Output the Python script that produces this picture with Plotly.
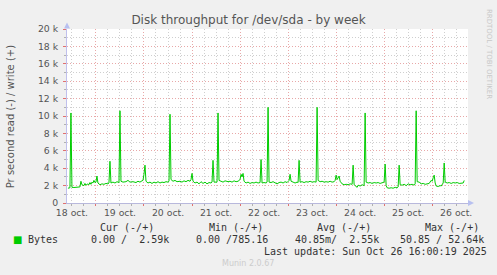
import plotly.graph_objects as go

# ---------------- data ----------------
times = [
    "2025-10-18 10:00", "2025-10-18 10:30", "2025-10-18 11:00", "2025-10-18 11:30", "2025-10-18 12:00",
    "2025-10-18 13:00", "2025-10-18 14:00", "2025-10-18 15:00", "2025-10-18 16:00", "2025-10-18 16:30",
    "2025-10-18 17:00", "2025-10-18 18:00", "2025-10-18 18:30", "2025-10-18 19:00", "2025-10-18 20:00",
    "2025-10-18 20:30", "2025-10-18 21:00", "2025-10-18 21:30", "2025-10-18 22:00", "2025-10-18 22:30",
    "2025-10-18 23:00", "2025-10-18 23:30",
    "2025-10-19 00:00", "2025-10-19 00:30", "2025-10-19 01:00", "2025-10-19 02:00", "2025-10-19 03:00",
    "2025-10-19 04:00", "2025-10-19 05:00", "2025-10-19 06:00", "2025-10-19 06:30", "2025-10-19 07:00",
    "2025-10-19 07:30", "2025-10-19 08:30", "2025-10-19 09:30", "2025-10-19 10:30", "2025-10-19 11:30",
    "2025-10-19 12:00", "2025-10-19 12:30", "2025-10-19 13:30", "2025-10-19 15:00", "2025-10-19 16:00",
    "2025-10-19 17:00", "2025-10-19 18:30", "2025-10-19 20:00", "2025-10-19 21:00", "2025-10-19 22:00",
    "2025-10-19 23:00", "2025-10-19 23:30",
    "2025-10-20 00:00", "2025-10-20 00:30", "2025-10-20 01:00", "2025-10-20 02:00", "2025-10-20 03:00",
    "2025-10-20 04:00", "2025-10-20 05:00", "2025-10-20 06:00", "2025-10-20 07:00", "2025-10-20 08:00",
    "2025-10-20 09:00", "2025-10-20 10:00", "2025-10-20 11:00", "2025-10-20 12:00", "2025-10-20 12:30",
    "2025-10-20 13:00", "2025-10-20 13:30", "2025-10-20 14:30", "2025-10-20 15:30", "2025-10-20 16:30",
    "2025-10-20 18:00", "2025-10-20 19:00", "2025-10-20 20:00", "2025-10-20 21:00", "2025-10-20 22:00",
    "2025-10-20 23:00", "2025-10-20 23:30",
    "2025-10-21 00:00", "2025-10-21 00:30", "2025-10-21 01:30", "2025-10-21 02:30", "2025-10-21 03:30",
    "2025-10-21 04:30", "2025-10-21 05:30", "2025-10-21 06:30", "2025-10-21 07:30", "2025-10-21 08:30",
    "2025-10-21 09:30", "2025-10-21 10:00", "2025-10-21 10:30", "2025-10-21 11:00", "2025-10-21 12:00",
    "2025-10-21 12:30", "2025-10-21 13:00", "2025-10-21 13:30", "2025-10-21 14:30", "2025-10-21 15:30",
    "2025-10-21 16:30", "2025-10-21 18:00", "2025-10-21 19:00", "2025-10-21 20:00", "2025-10-21 21:00",
    "2025-10-21 22:00", "2025-10-21 23:00",
    "2025-10-22 00:00", "2025-10-22 00:30", "2025-10-22 01:00", "2025-10-22 01:30", "2025-10-22 02:00",
    "2025-10-22 03:00", "2025-10-22 04:00", "2025-10-22 05:00", "2025-10-22 06:00", "2025-10-22 07:00",
    "2025-10-22 08:00", "2025-10-22 09:00", "2025-10-22 10:00", "2025-10-22 10:30", "2025-10-22 11:00",
    "2025-10-22 12:00", "2025-10-22 13:00", "2025-10-22 13:30", "2025-10-22 14:00", "2025-10-22 14:30",
    "2025-10-22 15:30", "2025-10-22 16:30", "2025-10-22 17:30", "2025-10-22 18:30", "2025-10-22 19:30",
    "2025-10-22 20:30", "2025-10-22 21:30", "2025-10-22 22:30", "2025-10-22 23:30",
    "2025-10-23 00:30", "2025-10-23 01:00", "2025-10-23 01:30", "2025-10-23 02:30", "2025-10-23 03:30",
    "2025-10-23 04:30", "2025-10-23 05:00", "2025-10-23 05:30", "2025-10-23 06:00", "2025-10-23 07:00",
    "2025-10-23 08:00", "2025-10-23 09:00", "2025-10-23 10:00", "2025-10-23 11:00", "2025-10-23 12:00",
    "2025-10-23 13:00", "2025-10-23 14:00", "2025-10-23 14:30", "2025-10-23 15:00", "2025-10-23 16:00",
    "2025-10-23 17:00", "2025-10-23 18:00", "2025-10-23 19:00", "2025-10-23 20:00", "2025-10-23 21:00",
    "2025-10-23 22:00", "2025-10-23 23:00", "2025-10-23 23:30",
    "2025-10-24 00:00", "2025-10-24 00:30", "2025-10-24 01:30", "2025-10-24 02:00", "2025-10-24 03:00",
    "2025-10-24 04:00", "2025-10-24 05:00", "2025-10-24 06:00", "2025-10-24 07:00", "2025-10-24 08:00",
    "2025-10-24 08:30", "2025-10-24 09:00", "2025-10-24 10:00", "2025-10-24 10:30", "2025-10-24 11:00",
    "2025-10-24 12:00", "2025-10-24 13:00", "2025-10-24 14:00", "2025-10-24 14:30", "2025-10-24 15:00",
    "2025-10-24 16:00", "2025-10-24 17:00", "2025-10-24 18:00", "2025-10-24 19:00", "2025-10-24 20:00",
    "2025-10-24 21:00", "2025-10-24 22:00", "2025-10-24 23:00",
    "2025-10-25 00:00", "2025-10-25 00:30", "2025-10-25 01:00", "2025-10-25 01:30", "2025-10-25 02:30",
    "2025-10-25 03:30", "2025-10-25 04:30", "2025-10-25 05:30", "2025-10-25 06:30", "2025-10-25 07:00",
    "2025-10-25 07:30", "2025-10-25 08:00", "2025-10-25 09:00", "2025-10-25 10:00", "2025-10-25 11:00",
    "2025-10-25 12:00", "2025-10-25 13:00", "2025-10-25 14:00", "2025-10-25 15:00", "2025-10-25 15:30",
    "2025-10-25 16:00", "2025-10-25 16:30", "2025-10-25 17:30", "2025-10-25 18:30", "2025-10-25 19:30",
    "2025-10-25 20:30", "2025-10-25 21:30", "2025-10-25 22:30", "2025-10-25 23:30",
    "2025-10-26 00:00", "2025-10-26 00:30", "2025-10-26 01:00", "2025-10-26 01:30", "2025-10-26 02:00",
    "2025-10-26 03:00", "2025-10-26 04:00", "2025-10-26 04:30", "2025-10-26 05:00", "2025-10-26 05:30",
    "2025-10-26 06:00", "2025-10-26 06:30", "2025-10-26 07:30", "2025-10-26 08:30", "2025-10-26 09:30",
    "2025-10-26 10:30", "2025-10-26 11:30", "2025-10-26 12:30", "2025-10-26 13:30", "2025-10-26 14:30",
    "2025-10-26 15:30", "2025-10-26 16:00",
]

write_bytes = [
    1700, 1720, 1750, 10350, 1800,
    1780, 1820, 1800, 1850, 2500,
    2100, 2000, 2250, 2050, 2200,
    2100, 2350, 2150, 2400, 2300,
    2600, 2350,
    2400, 3100, 2300, 2100, 2200,
    2150, 2250, 2200, 2300, 4800,
    2300, 2400, 2300, 2450, 2350,
    10600, 2500, 2400, 2450, 2600,
    2400, 2450, 2350, 2500, 2400,
    2550, 2600,
    3300, 4350, 2500, 2300, 2400,
    2250, 2400, 2300, 2450, 2300,
    2400, 2350, 2450, 2400, 2500,
    10200, 2700, 2500, 2600, 2450,
    2500, 2400, 2550, 2450, 2600,
    2500, 2700,
    3400, 2500, 2300, 2400, 2200,
    2450, 2250, 2400, 2200, 2350,
    2300, 2400, 4900, 2400, 2450,
    2400, 10350, 2600, 2500, 2400,
    2550, 2450, 2500, 2400, 2550,
    2450, 2500,
    2700, 3300, 3000, 3400, 2500,
    2300, 2400, 2250, 2350, 2300,
    2400, 2300, 2350, 5000, 2300,
    2350, 2300, 2400, 11000, 2400,
    2350, 2450, 2300, 2200, 2350,
    2400, 2300, 2450, 2350,
    2600, 3300, 2500, 2400, 2300,
    2400, 2350, 4900, 2400, 2450,
    2350, 2450, 2400, 2500, 2400,
    2450, 2400, 11000, 2600, 2450,
    2500, 2400, 2450, 2400, 2500,
    2400, 2450, 2600,
    3200, 2700, 3100, 2500, 2200,
    2100, 2150, 2100, 2200, 2150,
    4350, 2100, 1950, 1800, 2050,
    1950, 2100, 2000, 10350, 2400,
    2300, 2350, 2250, 2350, 2300,
    2350, 2250, 2350,
    2400, 4470, 2000, 1750, 1700,
    1750, 1700, 1800, 1750, 1850,
    4350, 2100, 2050, 2150, 2000,
    2200, 2100, 2150, 2050, 2200,
    10600, 2450, 2400, 2200, 2250,
    2150, 2200, 2250, 2600,
    2500, 2900, 3200, 2300, 1950,
    1900, 2000, 1950, 2200, 2300,
    4600, 2400, 2300, 2350, 2250,
    2350, 2300, 2350, 2250, 2300,
    2300, 2590,
]

y_tick_vals = [0, 2000, 4000, 6000, 8000, 10000, 12000, 14000, 16000, 18000, 20000]
y_tick_text = ["0", "2 k", "4 k", "6 k", "8 k", "10 k", "12 k", "14 k", "16 k", "18 k", "20 k"]

day_midnights = ["2025-10-19", "2025-10-20", "2025-10-21", "2025-10-22",
                 "2025-10-23", "2025-10-24", "2025-10-25", "2025-10-26"]
day_label_pos = ["2025-10-18 12:00", "2025-10-19 12:00", "2025-10-20 12:00", "2025-10-21 12:00",
                 "2025-10-22 12:00", "2025-10-23 12:00", "2025-10-24 12:00", "2025-10-25 12:00",
                 "2025-10-26 12:00"]
day_labels = ["18 oct.", "19 oct.", "20 oct.", "21 oct.", "22 oct.",
              "23 oct.", "24 oct.", "25 oct.", "26 oct."]

x_range = ["2025-10-18 09:32", "2025-10-26 17:54"]

legend_headers = ["Cur (-/+)", "Min (-/+)", "Avg (-/+)", "Max (-/+)"]
legend_values = ["0.00 /  2.59k", "0.00 /785.16", "40.85m/  2.55k", "50.85 / 52.64k"]
series_name = "Bytes"

# ---------------- layout constants ----------------
W, H = 497, 275
ML, MR, MT, MB = 67, 29, 28.5, 72
PW, PH = W - ML - MR, H - MT - MB

GREEN = "#00cc00"
MAJOR = "#e8a8a8"
MINOR = "#cfcfcf"
TXT = "#555555"
SANS = "DejaVu Sans"
MONO = "DejaVu Sans Mono"


def px(x, y):
    return (x - ML) / PW, (H - MB - y) / PH


fig = go.Figure()
fig.add_trace(go.Scatter(x=times, y=write_bytes, mode="lines",
                         line=dict(color=GREEN, width=1), showlegend=False,
                         hoverinfo="skip"))
fig.add_trace(go.Scatter(x=[], y=[], xaxis="x2", showlegend=False))

fig.update_layout(
    width=W, height=H,
    margin=dict(l=ML, r=MR, t=MT, b=MB, pad=0),
    paper_bgcolor="#f0f0f0", plot_bgcolor="#ffffff",
    font=dict(family=SANS, size=9.3, color=TXT),
    title=dict(text="Disk throughput for /dev/sda - by week", x=0.5, xanchor="center",
               y=1 - 20 / H, yanchor="middle", yref="container",
               font=dict(family=SANS, size=12, color=TXT)),
    xaxis=dict(type="date", range=x_range, tickmode="array", tickvals=day_midnights,
               showticklabels=False, showgrid=True, gridcolor=MAJOR, griddash="1px,2px",
               gridwidth=1, ticks="outside", ticklen=2, tickcolor="#e07070",
               showline=True, linecolor="#b8b8dc", linewidth=1, zeroline=False,
               minor=dict(dtick=6 * 3600 * 1000, tick0="2025-10-18", showgrid=True,
                          gridcolor=MINOR, griddash="1px,2px", ticks="outside",
                          ticklen=2, tickcolor="#b0b0b0")),
    xaxis2=dict(type="date", range=x_range, overlaying="x", anchor="y", side="bottom",
                tickmode="array", tickvals=day_label_pos, ticktext=day_labels,
                showgrid=False, ticks="", zeroline=False, showline=False,
                ticklabelstandoff=3,
                tickfont=dict(family=SANS, size=9.3, color=TXT)),
    yaxis=dict(range=[0, 20000], tickmode="array", tickvals=y_tick_vals, ticktext=y_tick_text,
               showgrid=True, gridcolor=MAJOR, griddash="1px,2px", gridwidth=1,
               ticks="outside", ticklen=3, tickcolor="#e07070", ticklabelstandoff=3,
               showline=True, linecolor="#c0c0ec", linewidth=1, zeroline=False,
               tickfont=dict(family=SANS, size=9.3, color=TXT),
               minor=dict(dtick=1000, tick0=0, showgrid=True, gridcolor=MINOR,
                          griddash="1px,2px", ticks="outside", ticklen=2,
                          tickcolor="#b0b0b0")),
)

# axis arrow heads as small filled paths (paper coordinates)
ax, ay = px(67, 22)
bx, by = px(64, 28)
cx, cy = px(70, 28)
fig.add_shape(type="path", xref="paper", yref="paper",
              path=f"M {ax} {ay} L {bx} {by} L {cx} {cy} Z",
              fillcolor="#b8c0f0", line=dict(width=0))
ax, ay = px(474, 203)
bx, by = px(468, 200)
cx, cy = px(468, 206)
fig.add_shape(type="path", xref="paper", yref="paper",
              path=f"M {ax} {ay} L {bx} {by} L {cx} {cy} Z",
              fillcolor="#b8c0f0", line=dict(width=0))

ann = []
# y axis title
x0, y0 = px(10, 117)
ann.append(dict(x=x0, y=y0, xref="paper", yref="paper", text="Pr second read (-) / write (+)",
                textangle=-90, showarrow=False, xanchor="center", yanchor="middle",
                font=dict(family=SANS, size=10, color=TXT)))
# rrdtool credit
x0, y0 = px(488.5, 53)
ann.append(dict(x=x0, y=y0, xref="paper", yref="paper", text="RRDTOOL / TOBI OETIKER",
                textangle=90, showarrow=False, xanchor="center", yanchor="middle",
                font=dict(family=SANS, size=7, color="#c8c8c8")))

# legend
hdr_x = [98, 207, 315, 423]
val_x = [89, 194, 293, 398]
for t, xx in zip(legend_headers, hdr_x):
    x0, y0 = px(xx, 227.5)
    ann.append(dict(x=x0, y=y0, xref="paper", yref="paper", text=t, showarrow=False,
                    xanchor="left", yanchor="middle", font=dict(family=MONO, size=10, color="#333")))
for t, xx in zip(legend_values, val_x):
    x0, y0 = px(xx, 240)
    ann.append(dict(x=x0, y=y0, xref="paper", yref="paper", text=t.replace(" ", "&nbsp;"),
                    showarrow=False, xanchor="left", yanchor="middle",
                    font=dict(family=MONO, size=10, color="#333")))
x0, y0 = px(26, 240)
ann.append(dict(x=x0, y=y0, xref="paper", yref="paper", text=series_name, showarrow=False,
                xanchor="left", yanchor="middle", font=dict(family=MONO, size=10, color="#333")))
x0, y0 = px(17, 240)
ann.append(dict(x=x0, y=y0, xref="paper", yref="paper", text="■", showarrow=False,
                xanchor="center", yanchor="middle", font=dict(family=SANS, size=10, color=GREEN)))
x0, y0 = px(262, 251.5)
ann.append(dict(x=x0, y=y0, xref="paper", yref="paper",
                text="Last update: Sun Oct 26 16:00:19 2025", showarrow=False,
                xanchor="left", yanchor="middle", font=dict(family=MONO, size=10, color="#333")))
x0, y0 = px(248, 264)
ann.append(dict(x=x0, y=y0, xref="paper", yref="paper", text="Munin 2.0.67", showarrow=False,
                xanchor="center", yanchor="middle", font=dict(family=SANS, size=8, color="#cccccc")))

fig.update_layout(annotations=ann)
fig.write_html("out.html")
